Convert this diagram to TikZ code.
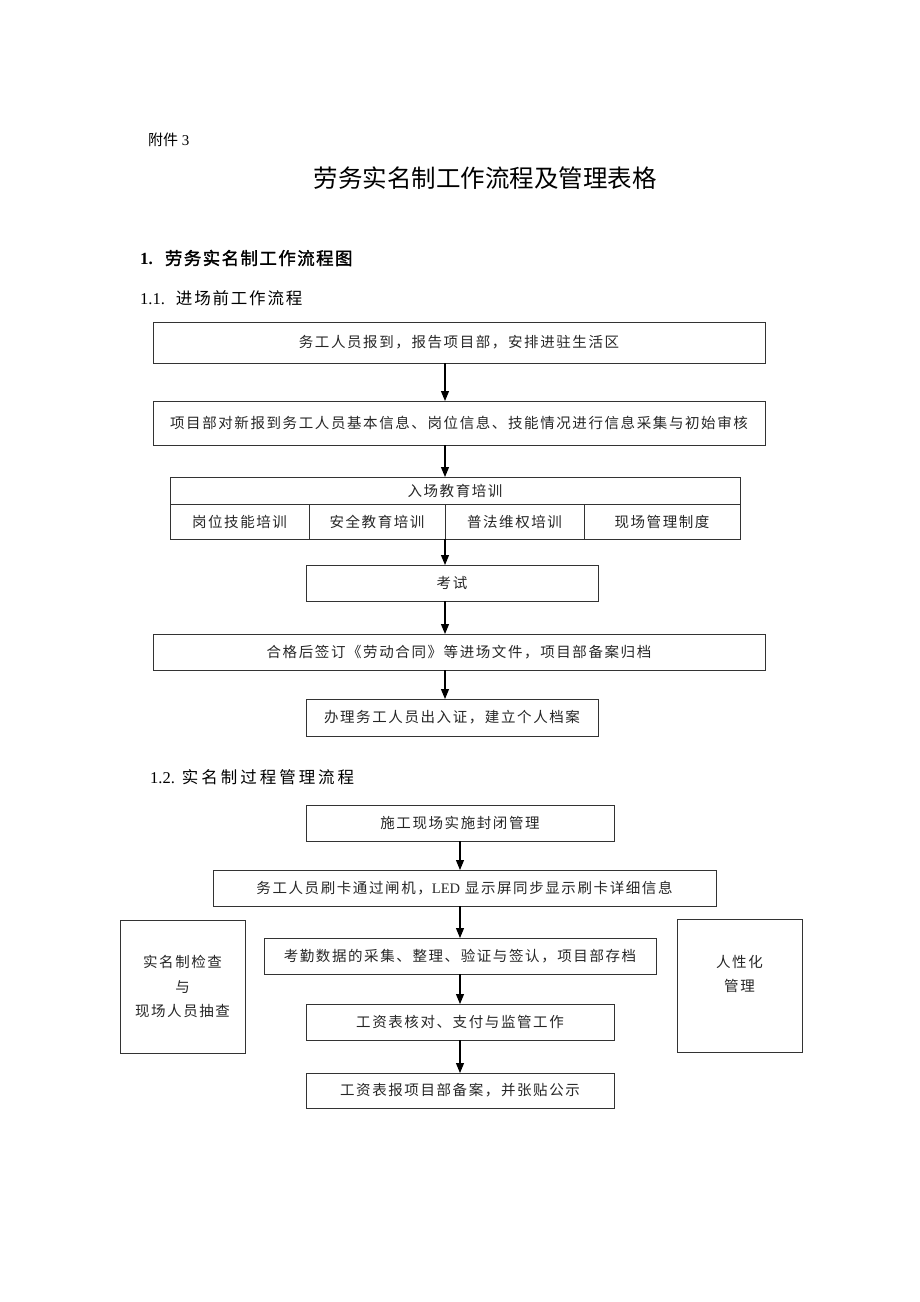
\documentclass[tikz,border=0pt]{standalone}
\usepackage{fontspec}
\setmainfont{Liberation Serif}
\newfontfamily\cjk{Noto Sans CJK SC}
\newfontfamily\cjkbold[FakeBold=1.6]{Noto Sans CJK SC}
\usetikzlibrary{arrows.meta, positioning}
\newcommand{\boxfont}{\cjk\fontsize{14.5}{24.5}\selectfont\addfontfeatures{LetterSpace=11}}

\tikzset{
    flowbox/.style={draw=black!80, line width=0.9pt, inner sep=0pt, outer sep=0pt,
        minimum height=36pt, font=\boxfont, text=black!85, align=center},
    arr/.style={-{Triangle[length=10pt,width=8pt]}, line width=1.1pt},
}

\begin{document}
\begin{tikzpicture}[x=1pt, y=-1pt]
    \useasboundingbox (0,0) rectangle (920,1302);

    % Headings
    \node[anchor=west, inner sep=0pt, font=\fontsize{15}{17}\selectfont] (annex) at (148,140) {{\cjk 附件} 3};
    \node[font=\cjk\fontsize{24.5}{28}\selectfont] (title) at (485,178) {劳务实名制工作流程及管理表格};
    \node[anchor=west, inner sep=0pt, font=\fontsize{17}{19}\selectfont] (sec1) at (140,258)
        {\textbf{1.}\hspace{12pt}{\cjkbold\fontsize{17.5}{19}\selectfont\addfontfeatures{LetterSpace=8}劳务实名制工作流程图}};
    \node[anchor=west, inner sep=0pt, font=\fontsize{16.5}{18}\selectfont] (sec11) at (140,298)
        {1.1.\hspace{11pt}{\cjk\fontsize{16.5}{18}\selectfont\addfontfeatures{LetterSpace=11}进场前工作流程}};

    % Arrival
    \node[flowbox, minimum width=612pt, minimum height=41pt] (arrive) at (459,342.5) {务工人员报到，报告项目部，安排进驻生活区};

    % Information collection
    \node[flowbox, minimum width=612pt, minimum height=44pt] (collect) at (459,423) {项目部对新报到务工人员基本信息、岗位信息、技能情况进行信息采集与初始审核};

    % Entry training
    \node[flowbox, minimum width=570pt, minimum height=27pt] (train) at (455,490.5) {入场教育培训};
    \node[flowbox, minimum width=139pt, minimum height=35pt, anchor=north west] (post) at (train.south west) {岗位技能培训};
    \node[flowbox, minimum width=136pt, minimum height=35pt, right=0pt of post] (safety) {安全教育培训};
    \node[flowbox, minimum width=139pt, minimum height=35pt, right=0pt of safety] (law) {普法维权培训};
    \node[flowbox, minimum width=156pt, minimum height=35pt, right=0pt of law] (rules) {现场管理制度};

    % Exam
    \node[flowbox, minimum width=292pt] (exam) at (452,583) {考试};

    % Contract
    \node[flowbox, minimum width=612pt] (contract) at (459,652) {合格后签订《劳动合同》等进场文件，项目部备案归档};

    % Pass
    \node[flowbox, minimum width=292pt, minimum height=37pt] (pass) at (452,717.5) {办理务工人员出入证，建立个人档案};

    % Arrows
    \draw[arr] (arrive.south -| law.west) -- (collect.north -| law.west);
    \draw[arr] (collect.south -| law.west) -- (train.north -| law.west);
    \draw[arr] (law.south west) -- (exam.north -| law.west);
    \draw[arr] (exam.south -| law.west) -- (contract.north -| law.west);
    \draw[arr] (contract.south -| law.west) -- (pass.north -| law.west);

    % Process management
    \node[anchor=west, inner sep=0pt, font=\fontsize{16.5}{18}\selectfont] (sec12) at (150,777)
        {1.2.\hspace{7pt}{\cjk\fontsize{16.5}{18}\selectfont\addfontfeatures{LetterSpace=18}实名制过程管理流程}};

    \node[flowbox, minimum width=308pt] (closed) at (460,823) {施工现场实施封闭管理};
    \node[flowbox, minimum width=503pt] (swipe) at (464.5,888) {务工人员刷卡通过闸机，{\rmfamily LED} 显示屏同步显示刷卡详细信息};
    \node[flowbox, minimum width=392pt] (attend) at (460,956) {考勤数据的采集、整理、验证与签认，项目部存档};
    \node[flowbox, minimum width=308pt] (wagechk) at (460,1022) {工资表核对、支付与监管工作};
    \node[flowbox, minimum width=308pt, minimum height=35pt] (wagepub) at (460,1090.5) {工资表报项目部备案，并张贴公示};

    % Side boxes
    \node[flowbox, minimum width=125pt, minimum height=133pt] (check) at (182.5,986.5) {实名制检查\\与\\现场人员抽查};
    \node[flowbox, minimum width=125pt, minimum height=133pt] (human) at (739.5,985.5) {人性化\\管理\\\mbox{}};

    \draw[arr] (closed.south) -- (closed.south |- swipe.north);
    \draw[arr] (closed.south |- swipe.south) -- (closed.south |- attend.north);
    \draw[arr] (closed.south |- attend.south) -- (closed.south |- wagechk.north);
    \draw[arr] (closed.south |- wagechk.south) -- (closed.south |- wagepub.north);
\end{tikzpicture}
\end{document}
